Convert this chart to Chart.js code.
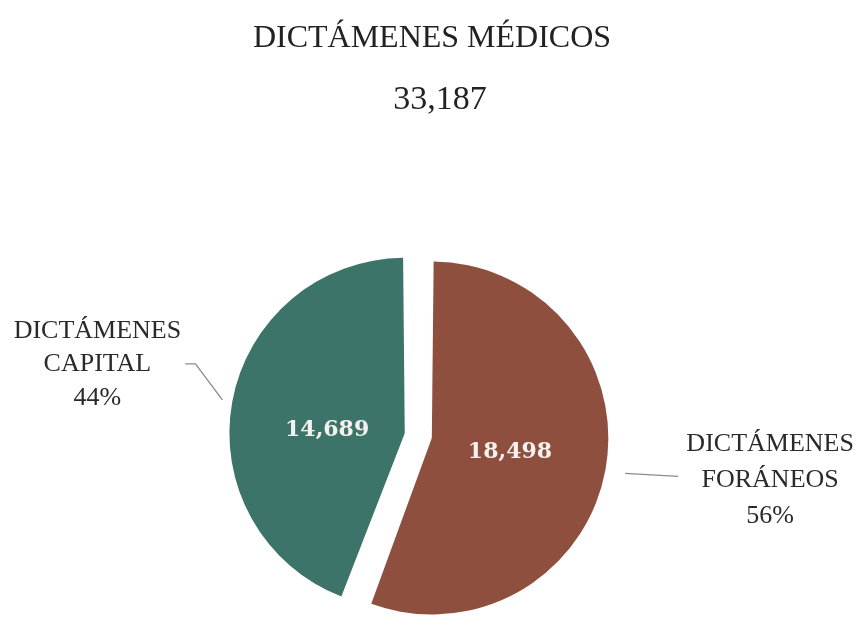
<!DOCTYPE html>
<html>
<head>
<meta charset="utf-8">
<script src="https://cdn.jsdelivr.net/npm/chart.js@4/dist/chart.umd.min.js"></script>
<style>
  html, body { margin: 0; padding: 0; background: #ffffff; }
  #wrap { width: 860px; height: 625px; }
</style>
</head>
<body>
<div id="wrap"><canvas id="c" width="860" height="625"></canvas></div>
<script>
// ---- data ----
const chartTitle = 'DICTÁMENES MÉDICOS';
const categories = ['DICTÁMENES FORÁNEOS', 'DICTÁMENES CAPITAL'];
const labelLines = [['DICTÁMENES', 'FORÁNEOS'], ['DICTÁMENES', 'CAPITAL']];
const values = [18498, 14689];
const colors = ['#8e4f3f', '#3d7469'];

// ---- layout / style constants ----
const sliceOffsets = [46, 64];
const innerDy = [0, 11];

const fmt = v => v.toLocaleString('en-US');

const labelPlugin = {
  id: 'pieLabels',
  afterDraw(chart) {
    const ctx = chart.ctx;
    const meta = chart.getDatasetMeta(0);
    const total = values.reduce((a, b) => a + b, 0);
    ctx.save();
    // titles
    ctx.fillStyle = '#222222';
    ctx.textAlign = 'center';
    ctx.textBaseline = 'alphabetic';
    ctx.font = '32px "Liberation Serif"';
    ctx.fillText(chartTitle, 432, 47);
    ctx.font = '34px "Liberation Serif"';
    ctx.fillText(fmt(total), 440, 109);

    meta.data.forEach((arc, i) => {
      const off = sliceOffsets[i] / 4;
      const mid = (arc.startAngle + arc.endAngle) / 2;
      const circ = arc.endAngle - arc.startAngle;
      const fix = 1 - Math.sin(Math.min(Math.PI, circ));
      const dx = Math.cos(mid), dy = Math.sin(mid);
      const cx = arc.x + dx * off, cy = arc.y + dy * off;
      const r = arc.outerRadius + off * fix;

      // value inside slice
      ctx.fillStyle = '#f4f1ee';
      ctx.font = 'bold 22px "DejaVu Serif"';
      ctx.textAlign = 'center';
      ctx.textBaseline = 'middle';
      ctx.fillText(fmt(values[i]), cx + dx * r * 0.45, cy + dy * r * 0.45 + innerDy[i]);

      // leader line + outside label
      const pct = Math.round(values[i] / total * 100) + '%';
      const lines = labelLines[i].concat([pct]);
      ctx.strokeStyle = '#8a8a8a';
      ctx.lineWidth = 1.3;
      ctx.beginPath();
      let tx, baseY, offsY;
      if (dx >= 0) {
        const p0x = cx + dx * (r + 20), p0y = cy + dy * (r + 20);
        const p1x = p0x + 53, p1y = p0y + 3;
        ctx.moveTo(p0x, p0y);
        ctx.lineTo(p1x, p1y);
        tx = p1x + 92; baseY = p1y; offsY = [-25, 11, 47];
      } else {
        const p0x = cx + dx * (r + 10), p0y = cy + dy * (r + 10);
        const p1x = p0x - 27, p1y = p0y - 36;
        const p2x = p1x - 10, p2y = p1y;
        ctx.moveTo(p0x, p0y);
        ctx.lineTo(p1x, p1y);
        ctx.lineTo(p2x, p2y);
        tx = p2x - 88; baseY = p2y; offsY = [-26, 7, 41];
      }
      ctx.stroke();
      ctx.fillStyle = '#2a2a2a';
      ctx.font = '26px "Liberation Serif"';
      ctx.textAlign = 'center';
      ctx.textBaseline = 'alphabetic';
      lines.forEach((t, k) => ctx.fillText(t, tx, baseY + offsY[k]));
    });
    ctx.restore();
  }
};

new Chart(document.getElementById('c'), {
  type: 'pie',
  data: {
    labels: categories,
    datasets: [{
      data: values,
      backgroundColor: colors,
      borderWidth: 0,
      offset: sliceOffsets,
      hoverOffset: 0
    }]
  },
  options: {
    responsive: false,
    animation: false,
    radius: 165,
    layout: { padding: { top: 247, bottom: 0, left: 0, right: 19 } },
    plugins: {
      legend: { display: false },
      tooltip: { enabled: false },
      title: { display: false }
    }
  },
  plugins: [labelPlugin]
});
</script>
</body>
</html>
